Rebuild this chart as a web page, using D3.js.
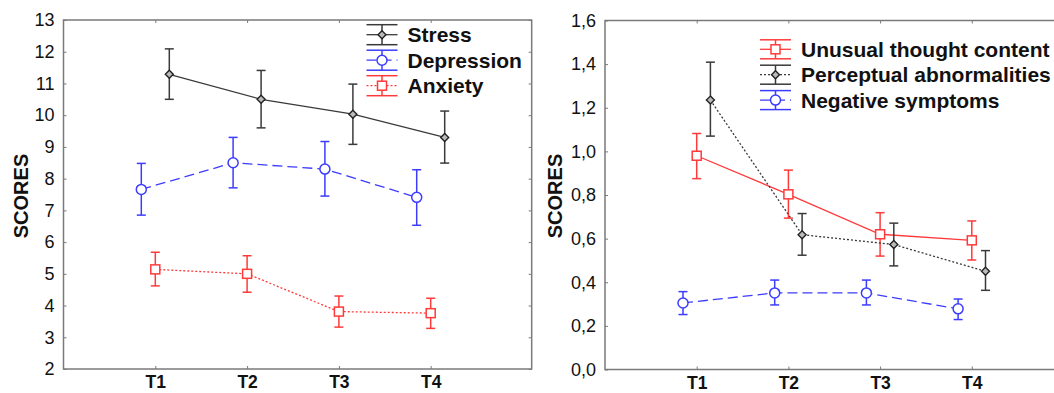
<!DOCTYPE html>
<html><head><meta charset="utf-8">
<script src="https://cdn.jsdelivr.net/npm/d3@7"></script>
<style>
html,body{margin:0;padding:0;background:#fff;}
svg{display:block;font-family:"Liberation Sans",Arial,sans-serif;}
</style></head>
<body>
<svg id="c" width="1054" height="393"></svg>
<script>
const categories = ["T1","T2","T3","T4"];

// Left panel
const leftTicks = [2,3,4,5,6,7,8,9,10,11,12,13];
const stressMean = [11.29, 10.50, 10.03, 9.30];
const stressLow  = [10.50, 9.60, 9.08, 8.49];
const stressHigh = [12.09, 11.41, 10.98, 10.13];
const depMean = [7.66, 8.50, 8.30, 7.41];
const depLow  = [6.85, 7.71, 7.45, 6.53];
const depHigh = [8.48, 9.30, 9.17, 8.28];
const anxMean = [5.14, 5.00, 3.81, 3.76];
const anxLow  = [4.62, 4.42, 3.32, 3.28];
const anxHigh = [5.68, 5.57, 4.30, 4.23];

// Right panel
const rightTicks = [0,0.2,0.4,0.6,0.8,1.0,1.2,1.4,1.6];
const utcMean = [0.980, 0.803, 0.620, 0.592];
const utcLow  = [0.875, 0.694, 0.520, 0.502];
const utcHigh = [1.082, 0.914, 0.719, 0.681];
const paMean = [1.235, 0.618, 0.573, 0.450];
const paLow  = [1.070, 0.524, 0.475, 0.363];
const paHigh = [1.409, 0.715, 0.671, 0.545];
const nsMean = [0.305, 0.351, 0.351, 0.278];
const nsLow  = [0.252, 0.296, 0.296, 0.229];
const nsHigh = [0.357, 0.410, 0.410, 0.323];

const svg = d3.select("#c");
const BLACK = "#3a3a3a", BLUE = "#3c3cff", RED = "#ff3a3a";

function panel(cfg){
  const g = svg.append("g");
  const x = d3.scaleLinear().domain([0,5.1]).range([cfg.left, cfg.left + 5.1*cfg.step]);
  const y = d3.scaleLinear().domain(cfg.ydom).range([cfg.bottom, cfg.top]);
  const xr = x.range();
  // frame
  g.append("rect").attr("x",xr[0]).attr("y",cfg.top).attr("width",xr[1]-xr[0]).attr("height",cfg.bottom-cfg.top)
    .attr("fill","none").attr("stroke","#7a7a7a").attr("stroke-width",1.5);
  // axes ticks (inward) via d3 axes
  const yl = g.append("g").attr("transform",`translate(${xr[0]},0)`)
    .call(d3.axisLeft(y).tickValues(cfg.ticks).tickSize(-3).tickPadding(9).tickFormat(cfg.fmt));
  const yr = g.append("g").attr("transform",`translate(${xr[1]},0)`)
    .call(d3.axisRight(y).tickValues(cfg.ticks).tickSize(-3).tickFormat(""));
  const catPos = categories.map((c,i)=>i+1);
  const xb = g.append("g").attr("transform",`translate(0,${cfg.bottom})`)
    .call(d3.axisBottom(x).tickValues(catPos).tickSize(-3).tickPadding(7).tickFormat((d)=>categories[d-1]));
  const xt = g.append("g").attr("transform",`translate(0,${cfg.top})`)
    .call(d3.axisTop(x).tickValues(catPos).tickSize(-3).tickFormat(""));
  [yl,yr,xb,xt].forEach(a=>{a.select(".domain").remove(); a.selectAll(".tick line").attr("stroke","#7a7a7a").attr("stroke-width",1);});
  yl.selectAll("text").attr("font-size",18).attr("fill","#111").attr("font-family","Liberation Sans, Arial, sans-serif");
  xb.selectAll("text").attr("font-size",17.5).attr("font-weight","bold").attr("fill","#111")
    .attr("font-family","Liberation Sans, Arial, sans-serif").attr("dy","0.71em");
  // y title
  g.append("text").attr("transform",`translate(${cfg.labelX+7},${cfg.labelY}) rotate(-90)`)
    .attr("text-anchor","middle").attr("font-size",20).attr("font-weight","bold").attr("fill","#111").text("SCORES");

  cfg.series.forEach(s=>{
    const pts = s.mean.map((m,i)=>({x:x(i+1)+s.off, y:y(m), lo:y(s.low[i]), hi:y(s.high[i])}));
    const line = d3.line().x(d=>d.x).y(d=>d.y);
    g.append("path").attr("d",line(pts)).attr("fill","none").attr("stroke",s.color)
      .attr("stroke-width",1.3).attr("stroke-dasharray",s.dash);
    pts.forEach(p=>{
      g.append("line").attr("x1",p.x).attr("x2",p.x).attr("y1",p.lo).attr("y2",p.hi).attr("stroke",s.color).attr("stroke-width",1.5);
      [p.lo,p.hi].forEach(yy=>g.append("line").attr("x1",p.x-4.5).attr("x2",p.x+4.5).attr("y1",yy).attr("y2",yy).attr("stroke",s.color).attr("stroke-width",1.5));
      marker(g,s,p.x,p.y);
    });
  });
  // legend
  cfg.series.forEach((s,i)=>{
    const cy = cfg.legY + i*cfg.legStep, x0 = cfg.legX, x1 = cfg.legX+31, cx = (x0+x1)/2;
    const lg = g.append("g");
    [cy-cfg.whisk, cy+cfg.whisk].forEach(yy=>lg.append("line").attr("x1",x0).attr("x2",x1).attr("y1",yy).attr("y2",yy).attr("stroke",s.color).attr("stroke-width",1.5));
    lg.append("line").attr("x1",cx).attr("x2",cx).attr("y1",cy-cfg.whisk).attr("y2",cy+cfg.whisk).attr("stroke",s.color).attr("stroke-width",1.5);
    lg.append("line").attr("x1",x0).attr("x2",x1).attr("y1",cy).attr("y2",cy).attr("stroke",s.color).attr("stroke-width",1.3).attr("stroke-dasharray",s.dash);
    marker(lg,s,cx,cy);
    lg.append("text").attr("x",x1+10).attr("y",cy).attr("dy","0.36em").attr("font-size",21).attr("font-weight","bold").attr("fill","#111").text(s.name);
  });
}

function marker(g,s,cx,cy){
  if(s.shape==="diamond"){
    g.append("path").attr("d",`M${cx},${cy-4}L${cx+4},${cy}L${cx},${cy+4}L${cx-4},${cy}Z`)
      .attr("fill","#bbb").attr("stroke","#222").attr("stroke-width",1.4);
  } else if(s.shape==="circle"){
    g.append("circle").attr("cx",cx).attr("cy",cy).attr("r",5).attr("fill","#fff").attr("stroke",s.color).attr("stroke-width",1.5);
  } else {
    g.append("rect").attr("x",cx-4.5).attr("y",cy-4.5).attr("width",9).attr("height",9).attr("fill","#fff").attr("stroke",s.color).attr("stroke-width",1.5);
  }
}

panel({left:63.5, step:91.8, top:20, bottom:369, ydom:[2,13], ticks:leftTicks, fmt:d3.format("d"),
  labelX:20.5, labelY:196, legX:366.5, legY:34.7, legStep:25.5, whisk:10,
  series:[
    {name:"Stress", mean:stressMean, low:stressLow, high:stressHigh, color:BLACK, dash:null, shape:"diamond", off:14},
    {name:"Depression", mean:depMean, low:depLow, high:depHigh, color:BLUE, dash:"10,5", shape:"circle", off:-14},
    {name:"Anxiety", mean:anxMean, low:anxLow, high:anxHigh, color:RED, dash:"2,2", shape:"square", off:0}
  ]});

panel({left:605, step:91.7, top:20.5, bottom:369.5, ydom:[0,1.6], ticks:rightTicks, fmt:d=>d3.format(".1f")(d).replace(".",","),
  labelX:555, labelY:196, legX:760, legY:49.3, legStep:25.4, whisk:9.5,
  series:[
    {name:"Unusual thought content", mean:utcMean, low:utcLow, high:utcHigh, color:RED, dash:null, shape:"square", off:0},
    {name:"Perceptual abnormalities", mean:paMean, low:paLow, high:paHigh, color:BLACK, dash:"2,2", shape:"diamond", off:13.7},
    {name:"Negative symptoms", mean:nsMean, low:nsLow, high:nsHigh, color:BLUE, dash:"10,5", shape:"circle", off:-13.7}
  ]});
</script>
</body></html>
